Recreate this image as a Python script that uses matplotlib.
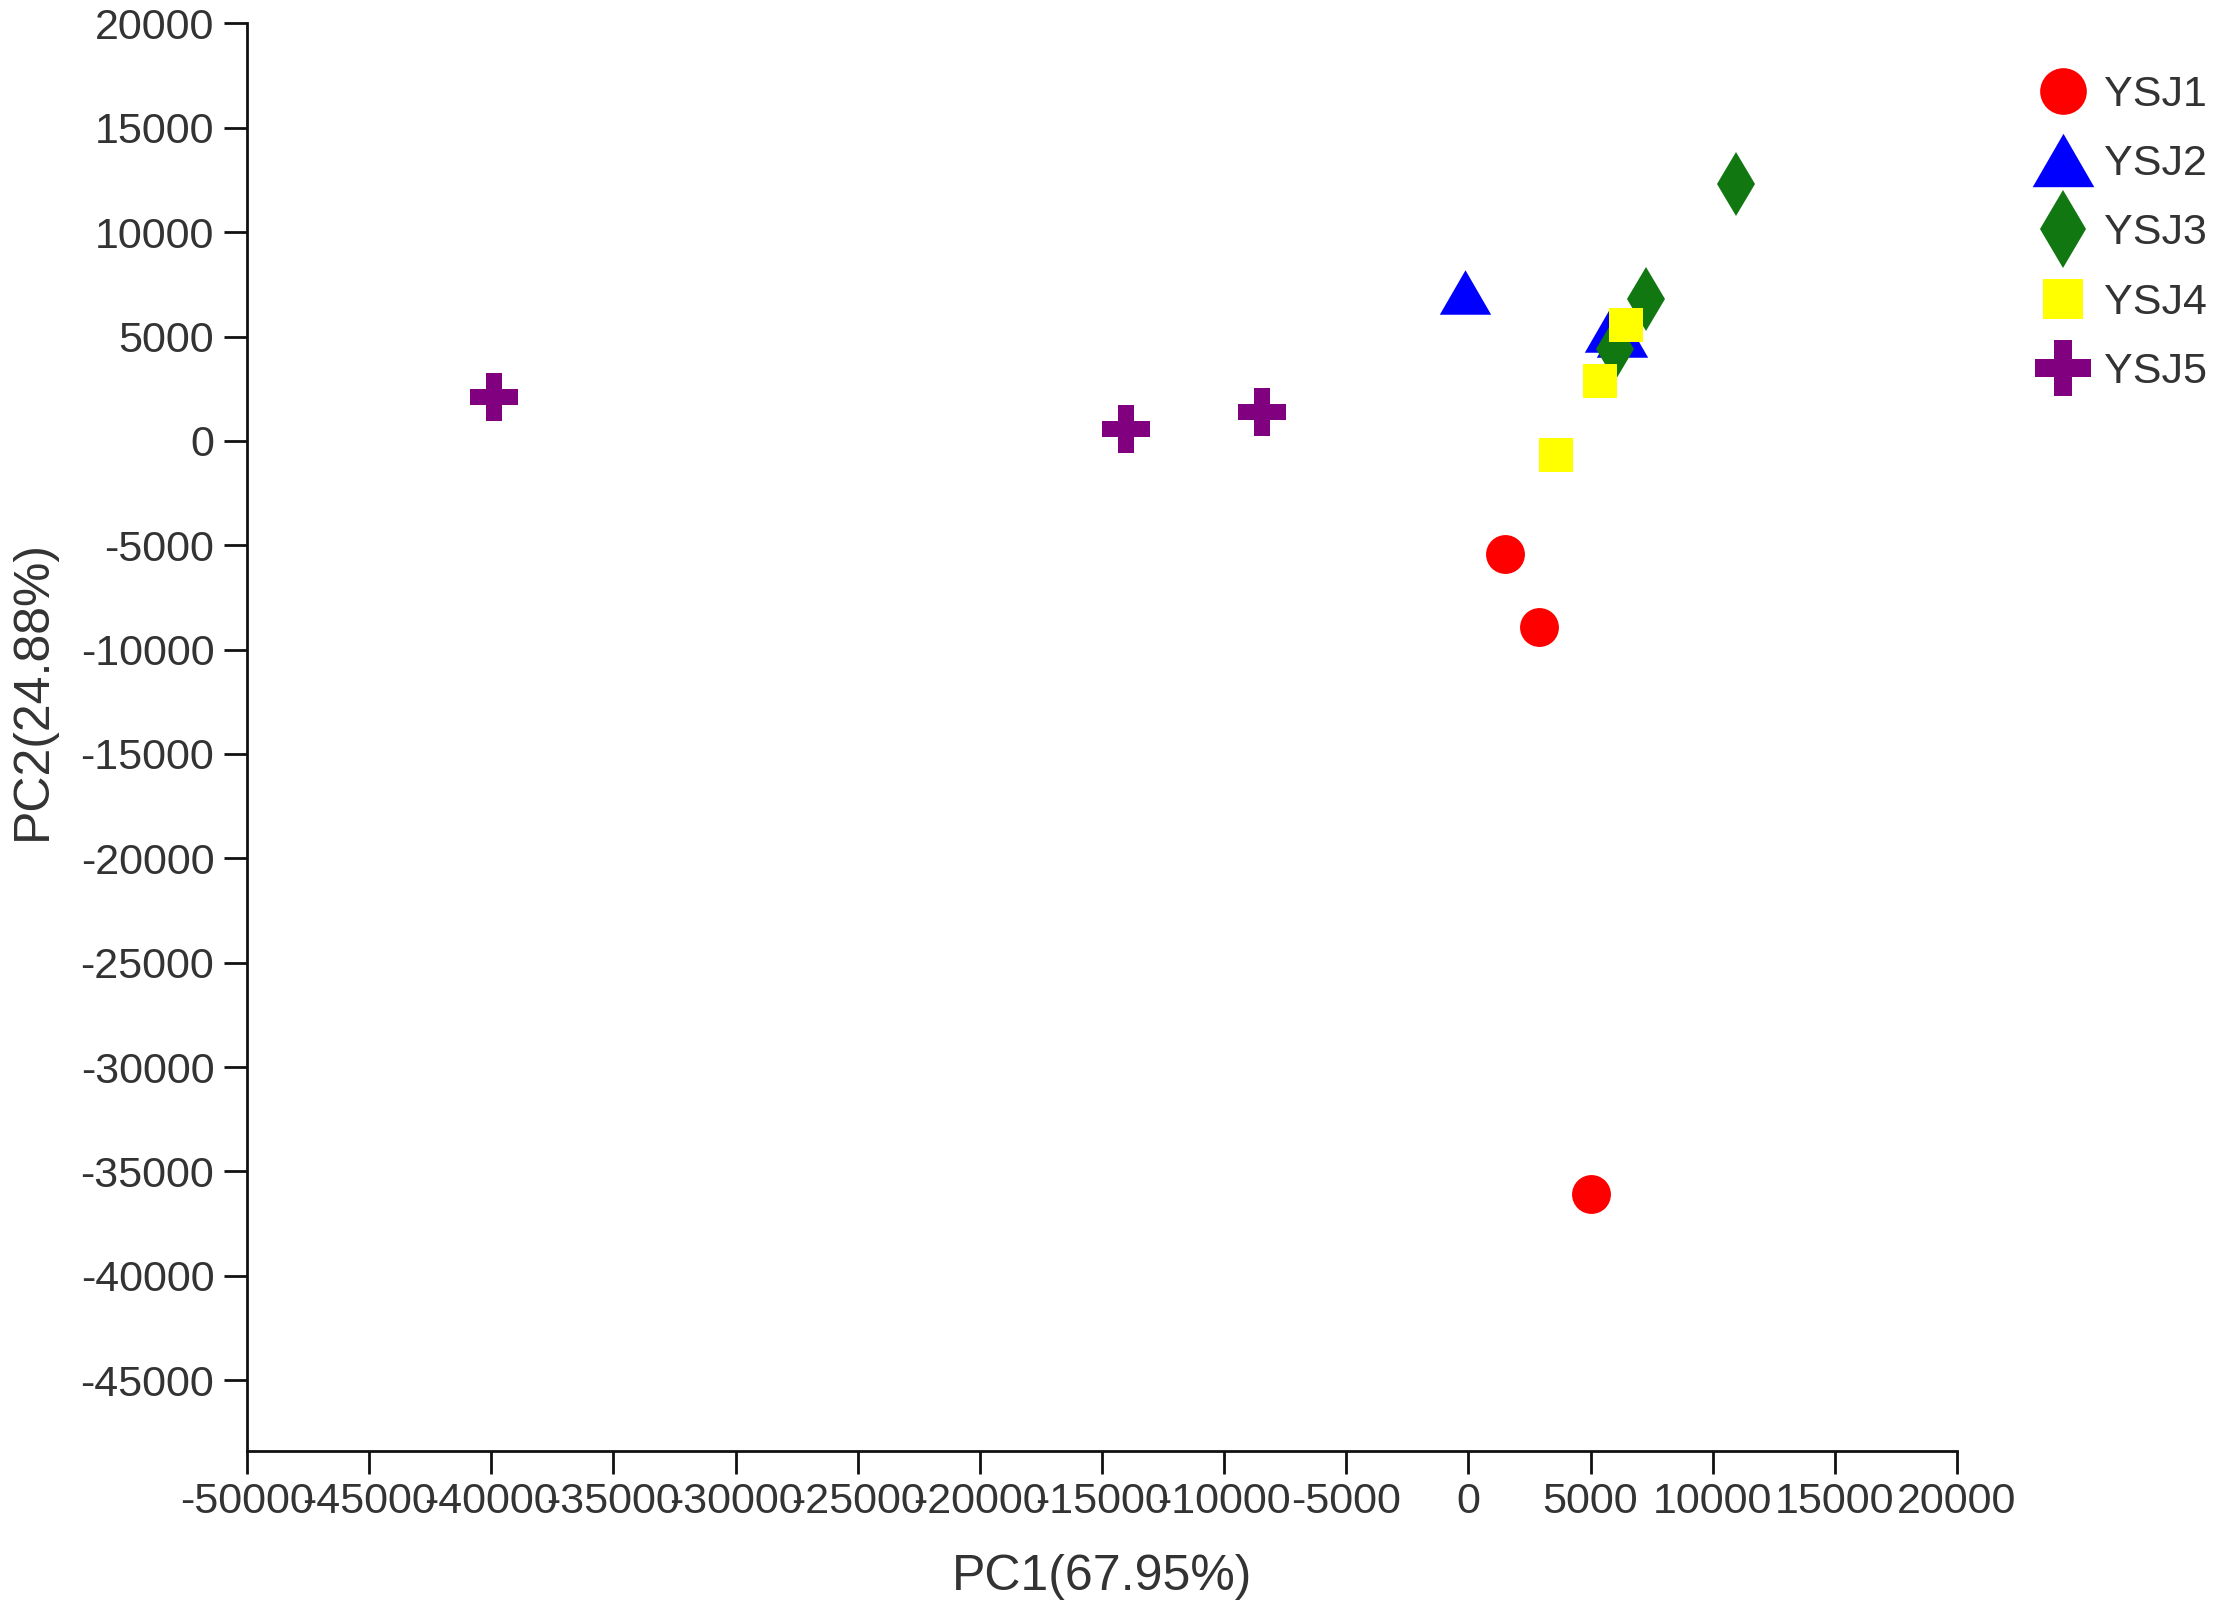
import matplotlib
matplotlib.use("Agg")
import matplotlib.pyplot as plt
from matplotlib.path import Path

plt.rcParams['font.family'] = ['Liberation Sans', 'DejaVu Sans']

# ---- data ----
groups = ["YSJ1", "YSJ2", "YSJ3", "YSJ4", "YSJ5"]
ysj1_x = [1500, 2900, 5000]
ysj1_y = [-5400, -8900, -36100]
ysj2_x = [-120, 5800, 6300]
ysj2_y = [7150, 5300, 5050]
ysj3_x = [10950, 7270, 6000]
ysj3_y = [12330, 6800, 4400]
ysj4_x = [6450, 5400, 3580]
ysj4_y = [5540, 2850, -700]
ysj5_x = [-39900, -14000, -8430]
ysj5_y = [2100, 550, 1360]

x_ticks = list(range(-50000, 20001, 5000))
y_ticks = list(range(-45000, 20001, 5000))
x_label = "PC1(67.95%)"
y_label = "PC2(24.88%)"

# ---- styling ----
tri = Path([(0, 0.866), (-1, -0.866), (1, -0.866), (0, 0.866)],
           [Path.MOVETO, Path.LINETO, Path.LINETO, Path.CLOSEPOLY])
styles = [
    dict(marker='o', color='#FF0000', ms=28),
    dict(marker=tri, color='#0000FF', ms=37),
    dict(marker='d', color='#117711', ms=33),
    dict(marker='s', color='#FFFF00', ms=24.5),
    dict(marker='P', color='#800080', ms=34),
]
xs = [ysj1_x, ysj2_x, ysj3_x, ysj4_x, ysj5_x]
ys = [ysj1_y, ysj2_y, ysj3_y, ysj4_y, ysj5_y]

text_color = '#333333'

fig = plt.figure(figsize=(22.17, 16.18), dpi=100)
ax = fig.add_axes([0.1114, 0.1032, 0.7713, 0.8823])

handles = []
for g, x, y, st in zip(groups, xs, ys, styles):
    h, = ax.plot(x, y, linestyle='none', marker=st['marker'], markersize=st['ms'],
                 markerfacecolor=st['color'], markeredgecolor=st['color'],
                 markeredgewidth=0, label=g, clip_on=False)
    handles.append(h)

ax.set_xlim(-50000, 20000)
ax.set_ylim(-48400, 20000)
ax.set_xticks(x_ticks)
ax.set_yticks(y_ticks)
ax.set_xticklabels([str(v) for v in x_ticks])
ax.set_yticklabels([str(v) for v in y_ticks])

for s in ['top', 'right']:
    ax.spines[s].set_visible(False)
for s in ['left', 'bottom']:
    ax.spines[s].set_linewidth(2)
    ax.spines[s].set_color('#111111')

ax.tick_params(axis='both', direction='out', length=16.5, width=2, color='#111111',
               labelsize=31, labelcolor=text_color)
ax.tick_params(axis='y', pad=7)
ax.tick_params(axis='x', pad=6)

ax.set_xlabel(x_label, fontsize=36, color=text_color)
ax.set_ylabel(y_label, fontsize=36, color=text_color)
ax.xaxis.set_label_coords(0.5, -0.072)
ax.yaxis.set_label_coords(-0.112, 0.533)

fig.legend(handles=handles, loc='upper left', bbox_to_anchor=(0.916, 0.9537),
           frameon=False, fontsize=31, labelcolor=text_color, markerscale=1.2,
           handlelength=1.5, handletextpad=0.2, labelspacing=0.68,
           borderpad=0, borderaxespad=0)

fig.savefig("out.png", dpi=100, facecolor='white')
